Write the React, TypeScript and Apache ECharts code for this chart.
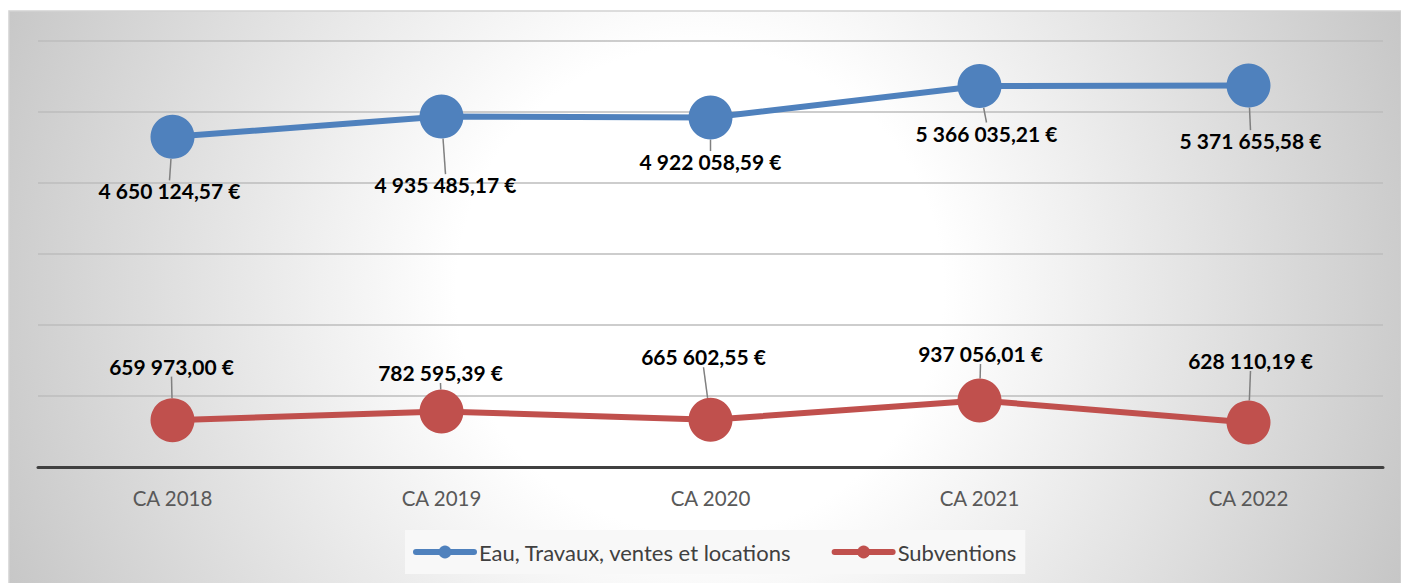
import React, { useEffect, useRef } from "react";
import * as echarts from "echarts";

const categories = ["CA 2018", "CA 2019", "CA 2020", "CA 2021", "CA 2022"];
const seriesNames = ["Eau, Travaux, ventes et locations", "Subventions"];
const eauValues = [4650124.57, 4935485.17, 4922058.59, 5366035.21, 5371655.58];
const subValues = [659973.0, 782595.39, 665602.55, 937056.01, 628110.19];
const yTicks = { min: 0, max: 6000000, interval: 1000000 };

// label offsets (label centre relative to the point), layout only
const eauLabelOffsets = [[-3, 54], [4, 68], [0, 44], [7, 47], [2, 55]];
const subLabelOffsets = [[-1, -54], [-1, -39], [-7, -63], [1, -47], [2, -62]];

const fmt = (v: number) => {
  const [i, d] = v.toFixed(2).split(".");
  const withSpaces = i.replace(/\B(?=(\d{3})+(?!\d))/g, " ");
  return `${withSpaces},${d} €`;
};

export default function App() {
  const ref = useRef<HTMLDivElement>(null);
  useEffect(() => {
    if (!ref.current) return;
    const chart = echarts.init(ref.current, undefined, { renderer: "svg" });
    const labelCommon = {
      show: true,
      position: "inside" as const,
      fontFamily: "Lato",
      fontWeight: "bold" as const,
      fontSize: 21,
      color: "#000000",
      padding: [10, 4],
      formatter: (p: any) => fmt(p.value),
    };
    const labelLine = { show: true, lineStyle: { color: "#808080", width: 1.5 } };
    chart.setOption({
      animation: false,
      graphic: {
        elements: [
          {
            type: "rect",
            z: -10,
            silent: true,
            shape: { x: 9, y: 11, width: 1392, height: 574 },
            style: {
              fill: {
                type: "radial",
                x: 700,
                y: 290,
                r: 760,
                global: true,
                colorStops: [
                  { offset: 0, color: "#ffffff" },
                  { offset: 0.32, color: "#ffffff" },
                  { offset: 1, color: "#c6c6c6" },
                ],
              },
              stroke: "#d2d2d2",
              lineWidth: 1.5,
            },
          },
        ],
      },
      grid: { left: 38, right: 18, top: 41, bottom: 116 },
      legend: {
        top: 530,
        left: 405,
        itemWidth: 58,
        itemHeight: 16,
        itemGap: 40,
        padding: [11, 9, 11, 8],
        backgroundColor: "#f8f8f8",
        lineStyle: { width: 6 },
        textStyle: { fontFamily: "Lato", fontSize: 22, color: "#404040" },
        data: seriesNames,
      },
      xAxis: {
        type: "category",
        data: categories,
        boundaryGap: true,
        axisLine: { show: true, lineStyle: { color: "#404040", width: 3 } },
        axisTick: { show: false },
        axisLabel: { fontFamily: "Lato", fontSize: 20.5, color: "#595959", margin: 20 },
      },
      yAxis: {
        type: "value",
        min: yTicks.min,
        max: yTicks.max,
        interval: yTicks.interval,
        axisLabel: { show: false },
        axisLine: { show: false },
        axisTick: { show: false },
        splitLine: { lineStyle: { color: "#bdbdbd", width: 1.5 } },
      },
      series: [
        {
          name: seriesNames[0],
          type: "line",
          data: eauValues,
          symbol: "circle",
          symbolSize: 44,
          color: "#4F81BD",
          lineStyle: { width: 6, color: "#4F81BD", cap: "round" },
          itemStyle: { color: "#4F81BD" },
          label: labelCommon,
          labelLine,
          labelLayout: (p: any) => ({ dx: eauLabelOffsets[p.dataIndex][0], dy: eauLabelOffsets[p.dataIndex][1] }),
          z: 3,
        },
        {
          name: seriesNames[1],
          type: "line",
          data: subValues,
          symbol: "circle",
          symbolSize: 44,
          color: "#C0504D",
          lineStyle: { width: 6, color: "#C0504D", cap: "round" },
          itemStyle: { color: "#C0504D" },
          label: labelCommon,
          labelLine,
          labelLayout: (p: any) => ({ dx: subLabelOffsets[p.dataIndex][0], dy: subLabelOffsets[p.dataIndex][1] }),
          z: 3,
        },
      ],
    });
    return () => chart.dispose();
  }, []);
  return (
    <div
      ref={ref}
      style={{ position: "fixed", left: 0, top: 0, width: 1401, height: 583, background: "#ffffff" }}
    />
  );
}
